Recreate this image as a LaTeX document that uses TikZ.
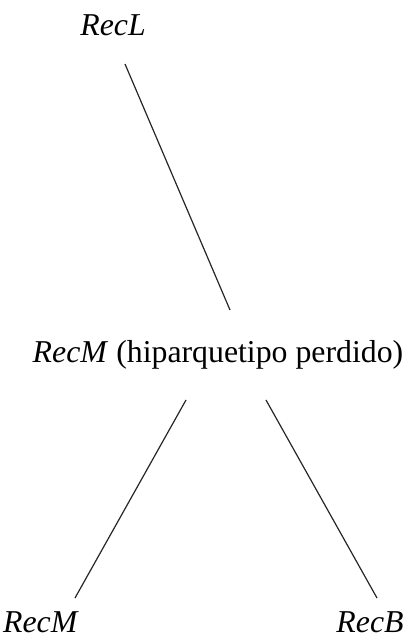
\documentclass[tikz,border=0pt]{standalone}
\usepackage{fontspec}
\setmainfont{Liberation Serif}
\usepackage{tikz}
\usetikzlibrary{positioning,calc}
\tikzstyle{sigla} = [inner sep=0pt, anchor=base, font=\fontsize{15.9}{18}\selectfont]
\tikzstyle{stemline} = [line width=0.6pt, black!85]

\begin{document}
\begin{tikzpicture}[x=0.5pt, y=-0.5pt]
\useasboundingbox (0,0) rectangle (409,637);

% --- Nodes ---
\node[sigla] (recl) at (113,35) {\textit{RecL}};
\node[sigla] (hipar) at (218,362) {\textit{RecM} (hiparquetipo perdido)};
\node[sigla] (recm) at (41,632) {\textit{RecM}};
\node[sigla] (recb) at (370,632) {\textit{RecB}};

% --- Lines ---
\draw[stemline] ([shift={(12,29)}]recl.base) -- ([shift={(12,-52)}]hipar.base);
\draw[stemline] ([shift={(-32,38)}]hipar.base) -- ([shift={(34,-34)}]recm.base);
\draw[stemline] ([shift={(48,38)}]hipar.base) -- ([shift={(7,-34)}]recb.base);

\end{tikzpicture}
\end{document}
